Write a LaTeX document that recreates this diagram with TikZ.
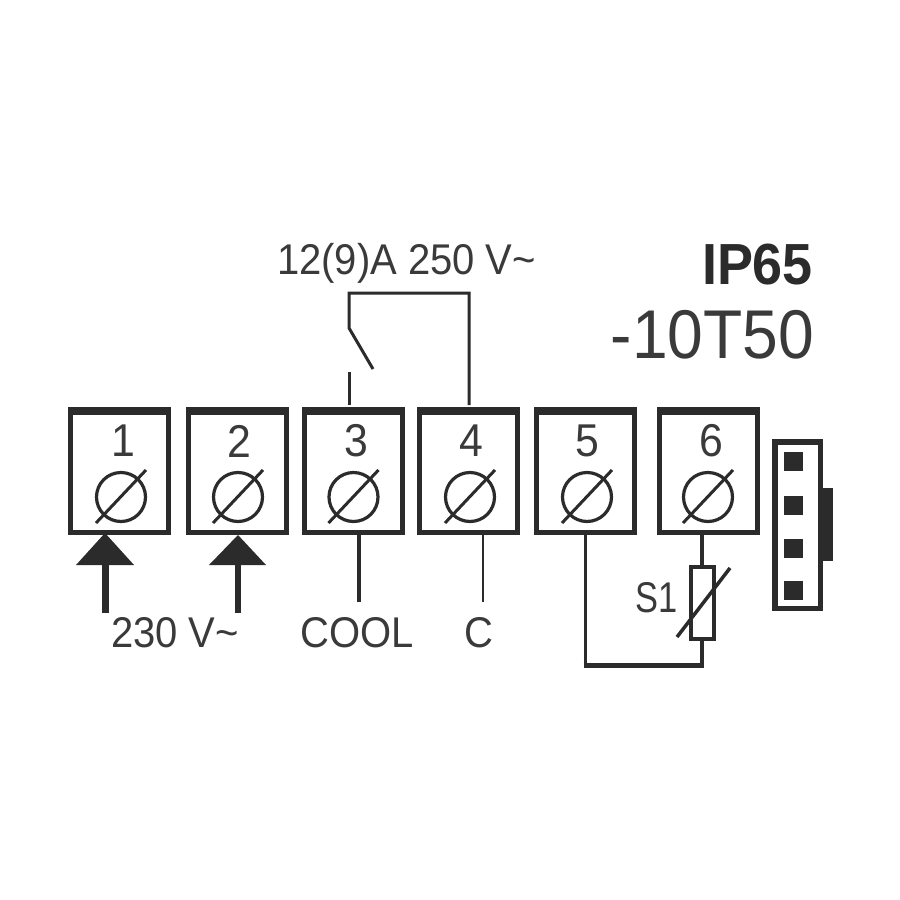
\documentclass[tikz,border=0pt]{standalone}
\usepackage{fontspec}
\setmainfont[FakeStretch=0.93]{Liberation Sans}
\definecolor{ink}{HTML}{2B2B2B}
\definecolor{soft}{HTML}{3A3A3A}
\tikzset{
  term/.style={draw=ink,fill=white,line width=5pt,minimum width=98pt,minimum height=123pt,inner sep=0pt},
  screw/.style={draw=ink,circle,line width=3.2pt,minimum width=49pt,minimum height=49pt,inner sep=0pt},
  wire/.style={draw=ink,line width=#1,line cap=butt,line join=miter},
  wire/.default=2.5pt,
  txt/.style={text=soft,inner sep=0pt,font=\fontsize{43}{43}\selectfont},
  num/.style={text=soft,inner sep=0pt,font=\fontsize{46}{46}\selectfont},
  pin/.style={fill=ink,draw=none,minimum width=19pt,minimum height=19pt,inner sep=0pt},
  rst/.style={draw=ink,fill=white,line width=4pt,minimum width=23pt,minimum height=72pt,inner sep=0pt},
  tip/.style={fill=ink,draw=none}
}
\begin{document}
\begin{tikzpicture}[x=1pt,y=-1pt]
\useasboundingbox[fill=white] (0,0) rectangle (900,900);
% terminals
\foreach \n/\x/\sx/\lx in {1/119.5/121/123,2/237.5/238/239,3/353/353.5/356,4/468.5/470/471,5/585/587/587,6/708/708/711}{
  \node[term] (t\n) at (\x,471) {};
  \fill[ink] (t\n.north west) rectangle ++(103,7.5);
  \node[num] (l\n) at (\lx,441) {\n};
  \node[screw] (s\n) at (\sx,497) {};
  \coordinate (sa\n) at (\sx-25,523);
  \coordinate (sb\n) at (\sx+25,470);
  \draw[wire=3pt] (sa\n) -- (sb\n);
}
% feed arrows
\coordinate (a1) at (105,613);
\coordinate (h1) at (105,562);
\coordinate (a2) at (238,613);
\coordinate (h2) at (238,562);
\draw[wire=7pt] (a1) -- (h1);
\draw[wire=6pt] (a2) -- (h2);
\fill[tip] (105,533) -- (134,565) -- (76,565) -- cycle;
\fill[tip] (238,535) -- (266,565) -- (209,565) -- cycle;
% outputs
\coordinate (e3) at (359,602);
\coordinate (e4) at (483,602);
\coordinate (b3) at (359,533);
\coordinate (b4) at (483,533);
\draw[wire=3.5pt] (b3) -- (e3);
\draw[wire=2.2pt] (b4) -- (e4);
% relay contact
\coordinate (c3) at (349,372);
\coordinate (n3) at (349,405);
\coordinate (n4) at (469,405);
\coordinate (hinge) at (349,328);
\coordinate (blade) at (373,369);
\draw[wire=3pt] (n3) -- (c3);
\draw[wire=3pt] (n4) |- (hinge |- 0,293) -- (hinge) -- (blade);
% sensor
\node[rst] (rs) at (702,602.5) {};
\coordinate (b5) at (585,533);
\coordinate (b6) at (702,533);
\coordinate (r5) at (585,665);
\coordinate (r6) at (702,665);
\draw[wire=4.5pt] (b6) -- (rs.north);
\draw[wire=3.5pt] (rs.south) -- (r6);
\draw[wire=3pt] (b5) -- (r5);
\draw[wire=5pt] (583.5,665) -- (703.75,665);
\coordinate (ra) at (677,637);
\coordinate (rb) at (730,568);
\draw[wire=3.5pt] (ra) -- (rb);
% connector
\fill[ink] (823,488) rectangle (833,561);
\node[draw=ink,fill=white,line width=5.5pt,minimum width=45.5pt,minimum height=166.5pt,inner sep=0pt] (conn) at (797.5,525) {};
\node[pin] (p1) at (793.5,461) {};
\node[pin] (p2) at (793.5,505.5) {};
\node[pin] (p3) at (793.5,548) {};
\node[pin] (p4) at (793.5,590) {};
% labels
\node[txt] (top) at (406.5,263) {12(9)A 250 V\textasciitilde};
\node[txt] (v230) at (175,633) {230 V\textasciitilde};
\node[txt] (cool) at (357.5,633) {COOL};
\node[txt] (cc) at (478.5,633) {C};
\node[txt] (s1) at (656.5,598) {\scalebox{0.86}[1]{S1}};
\node[text=ink,inner sep=0pt,font=\fontsize{58}{58}\selectfont\bfseries] (ip) at (757.5,265) {IP65};
\node[text=soft,inner sep=0pt,font=\fontsize{69}{69}\selectfont] (tr) at (712.5,335) {-10T50};
\end{tikzpicture}
\end{document}
